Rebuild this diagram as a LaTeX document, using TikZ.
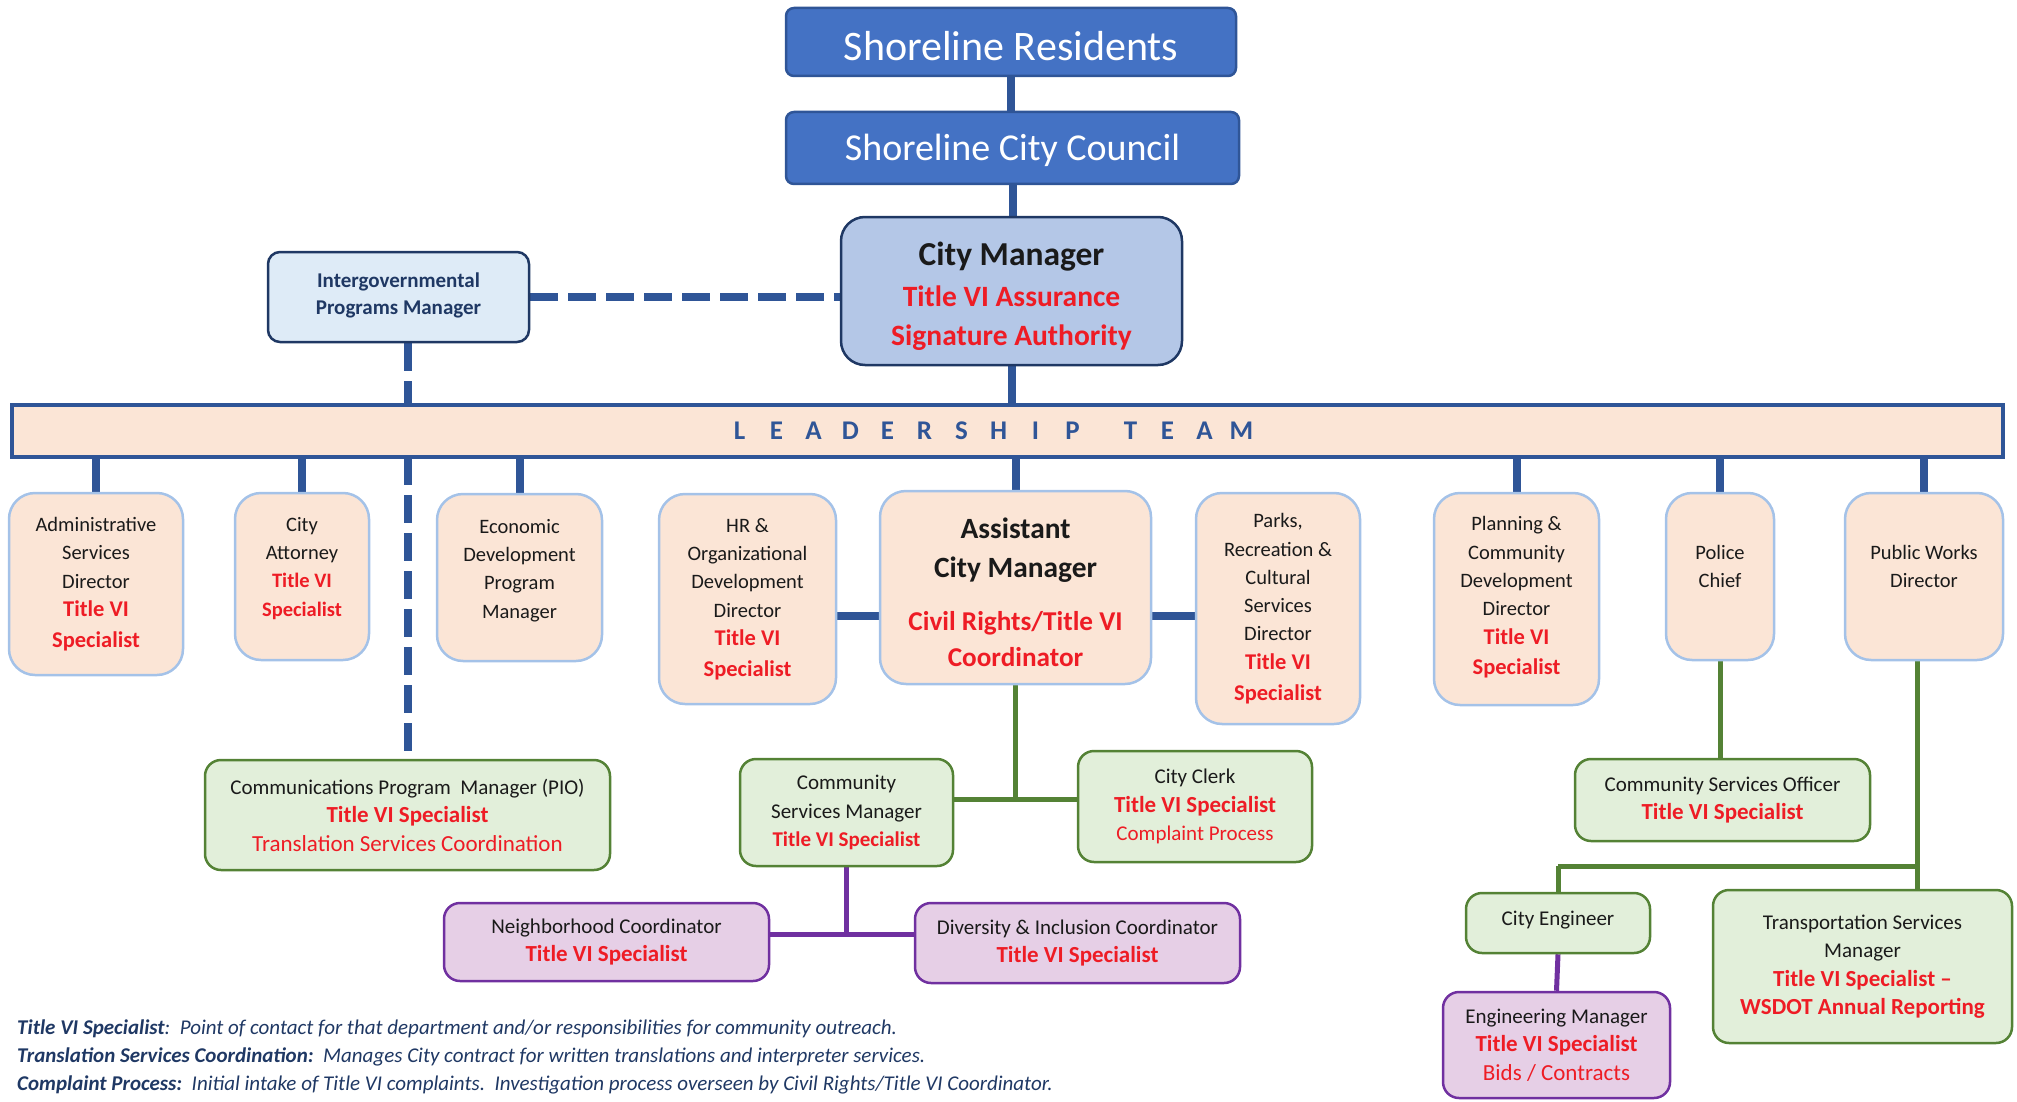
\documentclass[tikz,border=0pt]{standalone}
\usepackage{fontspec}
\setmainfont{Carlito}
\usetikzlibrary{calc}
\definecolor{topblue}{HTML}{4472C4}
\definecolor{topborder}{HTML}{2F5597}
\definecolor{conblue}{HTML}{2F5597}
\definecolor{navy}{HTML}{1F3864}
\definecolor{cmfill}{HTML}{B4C7E7}
\definecolor{igfill}{HTML}{DEEBF7}
\definecolor{peach}{HTML}{FBE5D6}
\definecolor{peachborder}{HTML}{A4C2E8}
\definecolor{gfill}{HTML}{E2EFDA}
\definecolor{gborder}{HTML}{548235}
\definecolor{pfill}{HTML}{E6CFE6}
\definecolor{pborder}{HTML}{7030A0}
\definecolor{tred}{HTML}{EE1C25}
\definecolor{tblack}{HTML}{1A1A1A}
\pgfdeclarelayer{bg}
\pgfsetlayers{bg,main}
\newcommand\tvred[1]{{\color{tred}\bfseries #1}}
\newcommand\tvreg[1]{{\color{tred}#1}}
\newcommand\lrd[1]{{\color{tred}\bfseries\fontsize{22.5}{30}\selectfont #1}}
\newcommand\grd[1]{{\color{tred}\bfseries\fontsize{23}{30}\selectfont #1}}
\newcommand\lsp[1]{\makebox[37pt]{#1}}
\tikzset{
  basebox/.style={rectangle, align=center, inner sep=0pt, line width=2.5pt},
  topbox/.style={basebox, fill=topblue, draw=topborder, rounded corners=8pt, text=white},
  cmbox/.style={basebox, fill=cmfill, draw=navy, rounded corners=24pt, text=tblack,
    font=\fontsize{29.5}{39}\selectfont},
  igbox/.style={basebox, fill=igfill, draw=navy, rounded corners=12pt, text=navy,
    font=\bfseries\fontsize{21}{27}\selectfont},
  leadbar/.style={rectangle, inner sep=0pt, fill=peach, draw=conblue, line width=4pt,
    text=conblue, font=\bfseries\fontsize{27}{30}\selectfont},
  leader/.style={basebox, fill=peach, draw=peachborder, rounded corners=26pt, text=tblack,
    font=\fontsize{20.5}{28.3}\selectfont},
  gbox/.style={basebox, fill=gfill, draw=gborder, rounded corners=16pt, text=tblack,
    font=\fontsize{21}{28.5}\selectfont},
  pbox/.style={basebox, fill=pfill, draw=pborder, rounded corners=16pt, text=tblack,
    font=\fontsize{21}{28.5}\selectfont},
  blueline/.style={draw=conblue, line width=8pt},
  bluedash/.style={draw=conblue, line width=8pt, dash pattern=on 28pt off 10pt},
  greenline/.style={draw=gborder, line width=5pt},
  purpleline/.style={draw=pborder, line width=5pt},
  notetext/.style={anchor=base west, inner sep=0pt, text=navy,
    font=\itshape\fontsize{21}{24}\selectfont},
}
\begin{document}
\begin{tikzpicture}[x=1pt,y=-1pt]
\useasboundingbox (0,0) rectangle (2017,1102);
% top
\node[topbox, minimum width=450pt, minimum height=68pt, font=\fontsize{42}{48}\selectfont] (res) at (1011,42) {\raisebox{-4pt}[\height][\depth]{Shoreline Residents}};
\node[topbox, minimum width=453pt, minimum height=72pt, font=\fontsize{38}{46}\selectfont] (council) at (1012.5,148) {\raisebox{-2pt}[\height][\depth]{Shoreline City Council}};
\node[cmbox, minimum width=341pt, minimum height=148pt] (cm) at (1011.5,291)
  {\rule{0pt}{33pt}{\bfseries\fontsize{33.5}{39}\selectfont City Manager}\\[2pt]
   {\color{tred}\bfseries Title VI Assurance}\\
   {\color{tred}\bfseries Signature Authority}};
\node[igbox, minimum width=261pt, minimum height=90pt] (ig) at (398.5,297)
  {Intergovernmental\\Programs Manager\\[-20pt]};
% leadership bar
\node[leadbar, minimum width=1991pt, minimum height=52pt] (lead) at (1007.5,431)
  {\lsp{L}\lsp{E}\lsp{A}\lsp{D}\lsp{E}\lsp{R}\lsp{S}\lsp{H}\lsp{I}\lsp{P}\hspace{21pt}\lsp{T}\lsp{E}\lsp{A}\lsp{M}\rule{34pt}{0pt}};
% leaders
\node[leader, minimum width=174pt, minimum height=182pt] (admin) at (96,584)
  {Administrative\\Services\\Director\\\lrd{Title VI}\\[2.5pt]\lrd{Specialist}};
\node[leader, minimum width=134pt, minimum height=167pt] (att) at (302,576.5)
  {City\\Attorney\\\tvred{Title VI}\\\tvred{Specialist}\\[-8.5pt]};
\node[leader, minimum width=165pt, minimum height=167pt] (econ) at (519.5,577.5)
  {Economic\\Development\\Program\\Manager\\[-10.5pt]};
\node[leader, minimum width=177pt, minimum height=210pt] (hr) at (747.5,599)
  {HR \&\\Organizational\\Development\\Director\\\lrd{Title VI}\\[2.5pt]\lrd{Specialist}};
\node[leader, minimum width=271pt, minimum height=193pt, font=\fontsize{29.4}{39}\selectfont] (acm) at (1015.5,587.5)
  {\rule{0pt}{30pt}{\bfseries Assistant}\\
   {\bfseries City Manager}\\[14pt]
   {\color{tred}\bfseries\fontsize{27.2}{37}\selectfont Civil Rights/Title VI}\\[-3pt]
   {\color{tred}\bfseries\fontsize{27.2}{37}\selectfont Coordinator}};
\node[leader, minimum width=164pt, minimum height=231pt] (parks) at (1278,608.5)
  {Parks,\\Recreation \&\\Cultural\\Services\\Director\\\lrd{Title VI}\\[2.5pt]\lrd{Specialist}};
\node[leader, minimum width=165pt, minimum height=212pt] (plan) at (1516.5,599)
  {Planning \&\\Community\\Development\\Director\\\lrd{Title VI}\\[2.5pt]\lrd{Specialist}\\[-22pt]};
\node[leader, minimum width=108pt, minimum height=167pt] (police) at (1720,576.5)
  {Police\\Chief\\[-8.5pt]};
\node[leader, minimum width=158pt, minimum height=167pt] (pw) at (1924,576.5)
  {Public Works\\Director\\[-8.5pt]};
% second level
\node[gbox, minimum width=405pt, minimum height=110pt] (cpm) at (407.5,815)
  {Communications Program\ \ Manager (PIO)\\\grd{Title VI Specialist}\\\tvreg{\fontsize{23}{30}\selectfont Translation Services Coordination}};
\node[gbox, minimum width=213pt, minimum height=107pt] (csm) at (846.5,812.5)
  {Community\\Services Manager\\\tvred{Title VI Specialist}};
\node[gbox, minimum width=234pt, minimum height=111pt] (clerk) at (1195,806.5)
  {City Clerk\\\grd{Title VI Specialist}\\\tvreg{Complaint Process}};
\node[pbox, minimum width=325pt, minimum height=78pt] (nc) at (606.5,942)
  {Neighborhood Coordinator\\\grd{Title VI Specialist}};
\node[pbox, minimum width=325pt, minimum height=80pt] (di) at (1077.5,943)
  {Diversity \& Inclusion Coordinator\\\grd{Title VI Specialist}};
\node[gbox, minimum width=295pt, minimum height=82pt] (cso) at (1722.5,800)
  {Community Services Officer\\\grd{Title VI Specialist}};
\node[gbox, minimum width=184pt, minimum height=60pt] (ce) at (1558,923)
  {\raisebox{3pt}[\height][\depth]{City Engineer}};
\node[gbox, minimum width=299pt, minimum height=153pt] (tsm) at (1862.5,966.5)
  {Transportation Services\\Manager\\\grd{Title VI Specialist --}\\\grd{WSDOT Annual Reporting}};
\node[pbox, minimum width=227pt, minimum height=106pt] (em) at (1556.5,1045)
  {Engineering Manager\\\grd{Title VI Specialist}\\\tvreg{\fontsize{23}{30}\selectfont Bids / Contracts}};
% notes
\node[notetext] (note1) at (17,1034)
  {\textbf{Title VI Specialist}:\ \ Point of contact for that department and/or responsibilities for community outreach.};
\node[notetext] (note2) at (17,1062)
  {\textbf{Translation Services Coordination:}\ \ Manages City contract for written translations and interpreter services.};
\node[notetext] (note3) at (17,1090)
  {\textbf{Complaint Process:}\ \ Initial intake of Title VI complaints.\ \ Investigation process overseen by Civil Rights/Title VI Coordinator.};
% helper coordinates
\coordinate (hy) at (0,616);
\coordinate (gj) at (0,799);
\coordinate (pj) at (0,934);
\coordinate (hj) at (0,866);
\coordinate (pwx) at (1917,0);
% connectors
\begin{pgfonlayer}{bg}
\draw[blueline] (res.south) -- (res.south |- council.north);
\draw[blueline] (council.south) -- (council.south |- cm.north);
\draw[blueline] (cm.south) -- (cm.south |- lead.north);
\draw[bluedash] (ig.east) -- (ig.east -| cm.west);
\draw[bluedash] (cpm.north |- ig.south) -- (cpm.north);
\foreach \n in {admin,att,econ,acm,plan,police,pw}
  \draw[blueline] (\n.north |- lead.south) -- (\n.north);
\draw[blueline] (hr.east |- hy) -- (acm.west |- hy);
\draw[blueline] (acm.east |- hy) -- (parks.west |- hy);
\draw[greenline] (acm.south) -- (acm.south |- gj);
\draw[greenline] (csm.east |- gj) -- (clerk.west |- gj);
\draw[purpleline] (csm.south) -- (csm.south |- pj);
\draw[purpleline] (nc.east |- pj) -- (di.west |- pj);
\draw[greenline] (police.south) -- (police.south |- cso.north);
\draw[greenline] (pwx |- pw.south) -- (pwx |- tsm.north);
\draw[greenline] (ce.north |- hj) -- (pwx |- hj);
\draw[greenline] (ce.north |- hj) -- (ce.north);
\draw[purpleline] (ce.south) -- (em.north);
\end{pgfonlayer}
\end{tikzpicture}
\end{document}
